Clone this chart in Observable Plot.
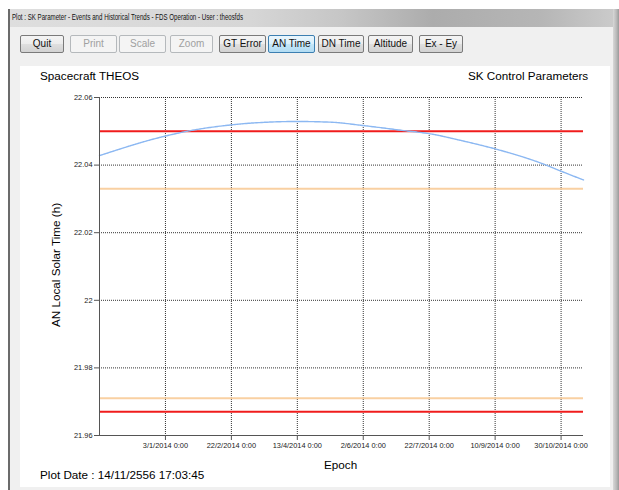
<!DOCTYPE html>
<html><head><meta charset="utf-8">
<script src="https://cdn.jsdelivr.net/npm/d3@7"></script>
<script src="https://cdn.jsdelivr.net/npm/@observablehq/plot@0.6"></script>
<style>
body{margin:0;width:619px;height:490px;overflow:hidden;background:#fff;font-family:"Liberation Sans",Arial,sans-serif;position:relative}
.abs{position:absolute}
#titlebar{left:9px;top:9px;width:606px;height:18px;background:linear-gradient(90deg,#dedede 0%,#d6d6d6 40%,#c6c6c6 55%,#acacac 70%,#b6b6b6 88%,#cbcbcb 100%);}
#client{left:10px;top:27px;width:603px;height:463px;background:#f0f0f0;}
#lborder{left:8px;top:9px;width:2px;height:481px;background:#6b6b6b;}
#rborder{left:613px;top:9px;width:6px;height:481px;background:linear-gradient(90deg,#d8d8d8,#b8b8b8 60%,#9a9a9a);}
#panel{left:20px;top:66px;width:590px;height:421px;background:#fff;}
.btn{position:absolute;top:35px;height:18px;box-sizing:border-box;border:1px solid #7a7a7a;border-radius:2px;background:linear-gradient(#f4f4f4,#ececec 50%,#dfdfdf 51%,#d2d2d2);font-size:10px;color:#111;text-align:center;line-height:16px;}
.dis{border-color:#b5b9bc;background:#f4f4f4;color:#a0a0a0;}
.sel{border-color:#3c7fb1;background:linear-gradient(#eaf6fd,#d9f0fc 50%,#c4e6f8 51%,#b2dcf3);}
.txt{position:absolute;font-size:11.7px;color:#000;white-space:nowrap;}
#chart{left:20px;top:88px;}
</style></head><body>
<div id="titlebar" class="abs"></div>
<svg class="abs" style="left:0;top:0" width="619" height="28"><text x="12" y="20" font-size="8.6" font-family="Liberation Sans, Arial, sans-serif" fill="#111" textLength="231" lengthAdjust="spacingAndGlyphs">Plot : SK Parameter - Events and Historical Trends - FDS Operation - User : theosfds</text></svg>
<div id="client" class="abs"></div>
<div id="lborder" class="abs"></div>
<div id="rborder" class="abs"></div>
<div class="btn" style="left:20px;width:44px">Quit</div>
<div class="btn dis" style="left:70px;width:47px">Print</div>
<div class="btn dis" style="left:119px;width:47px">Scale</div>
<div class="btn dis" style="left:170px;width:43px">Zoom</div>
<div class="btn" style="left:219px;width:47px">GT Error</div>
<div class="btn sel" style="left:268px;width:47px">AN Time</div>
<div class="btn" style="left:318px;width:46px">DN Time</div>
<div class="btn" style="left:368px;width:45px">Altitude</div>
<div class="btn" style="left:419px;width:44px">Ex - Ey</div>
<div id="panel" class="abs"></div>
<div class="txt" style="left:40px;top:69px">Spacecraft THEOS</div>
<div class="txt" style="left:468px;top:69px">SK Control Parameters</div>
<div class="txt" style="left:40px;top:468px">Plot Date : 14/11/2556 17:03:45</div>
<div class="txt" style="left:324px;top:458px">Epoch</div>
<div class="txt" style="left:55px;top:265px;transform:translate(-50%,-50%) rotate(-90deg)">AN Local Solar Time (h)</div>
<div id="chart" class="abs"></div>
<script>
const epochs = ["2013-11-14","2014-01-03","2014-01-22","2014-02-22","2014-03-08","2014-04-13","2014-05-08","2014-06-02","2014-07-03","2014-07-22","2014-08-16","2014-09-10","2014-10-16","2014-10-30","2014-11-16"];
const anTime = [22.0428,22.0486,22.0502,22.0519,22.0524,22.0529,22.0527,22.0517,22.0502,22.0493,22.0472,22.0448,22.0404,22.0382,22.0356];
const redLimits = [22.05, 21.967];
const orangeLimits = [22.033, 21.971];
const yTicks = [21.96, 21.98, 22, 22.02, 22.04, 22.06];
const xTickDates = ["2014-01-03","2014-02-22","2014-04-13","2014-06-02","2014-07-22","2014-09-10","2014-10-30"];

const parse = d3.utcParse("%Y-%m-%d");
const data = epochs.map((d, i) => ({date: parse(d), v: anTime[i]}));
const xTicks = xTickDates.map(parse);
const fmt = d3.utcFormat("%-d/%-m/%Y 0:00");

const chart = Plot.plot({
  width: 580, height: 370,
  marginLeft: 79, marginRight: 17, marginTop: 9, marginBottom: 23,
  x: {type: "utc", domain: [data[0].date, data[data.length - 1].date]},
  y: {domain: [21.96, 22.06]},
  style: {fontFamily: "Liberation Sans, Arial, sans-serif", fontSize: "7.4px", color: "#222", background: "transparent", overflow: "visible"},
  marks: [
    Plot.gridY(yTicks, {stroke: "#000", strokeOpacity: 0.8, strokeDasharray: "1,1"}),
    Plot.gridX(xTicks, {stroke: "#000", strokeOpacity: 0.8, strokeDasharray: "1,1"}),
    Plot.ruleY(orangeLimits, {stroke: "#f9d0a2", strokeWidth: 2}),
    Plot.ruleY(redLimits, {stroke: "#f01c1c", strokeWidth: 2}),
    Plot.line(data, {x: "date", y: "v", stroke: "#8cb8f2", strokeWidth: 1.4, strokeDasharray: "2,0.6", curve: "monotone-x"}),
    Plot.axisY(yTicks, {tickSize: 5, tickPadding: 2, label: null, tickFormat: d => String(d), stroke: "#555"}),
    Plot.axisX(xTicks, {tickSize: 5, tickPadding: 2, label: null, tickFormat: fmt, stroke: "#555"}),
    Plot.ruleX([data[0].date], {stroke: "#555"}),
    Plot.ruleY([21.96], {stroke: "#555"})
  ]
});
document.getElementById("chart").appendChild(chart);
</script>
</body></html>
